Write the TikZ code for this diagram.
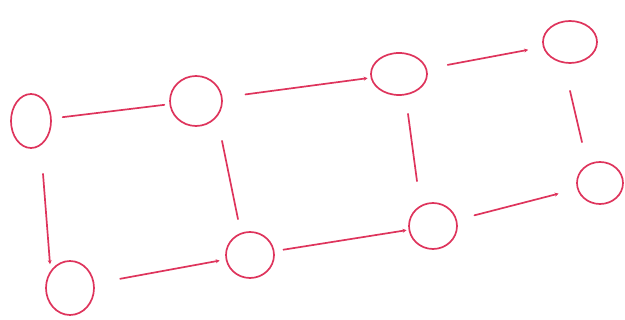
\documentclass[tikz,border=0pt]{standalone}
\usetikzlibrary{shapes.geometric,arrows.meta}
\definecolor{ink}{RGB}{222,52,92}
\tikzset{
  vtx/.style={ellipse,draw=ink,line width=1.7pt,inner sep=0pt},
  edge/.style={draw=ink,line width=1.7pt,line cap=round},
  tip/.style={-{Stealth[length=4pt,width=4pt]}}
}
\begin{document}
\begin{tikzpicture}[x=1pt,y=-1pt]
\useasboundingbox (0,0) rectangle (625,320);
\node[vtx,minimum width=40pt,minimum height=54pt] (A) at (31,121) {};
\node[vtx,minimum width=52pt,minimum height=50pt] (B) at (196,101) {};
\node[vtx,minimum width=56pt,minimum height=42pt] (C) at (399,74) {};
\node[vtx,minimum width=54pt,minimum height=42pt] (D) at (570,42) {};
\node[vtx,minimum width=48pt,minimum height=54pt] (E) at (70,288) {};
\node[vtx,minimum width=48pt,minimum height=46pt] (F) at (250,255) {};
\node[vtx,minimum width=48pt,minimum height=46pt] (G) at (433,226) {};
\node[vtx,minimum width=46pt,minimum height=42pt] (H) at (600,183) {};
% horizontal connectors
\draw[edge,shorten <=11pt,shorten >=5pt] (A) -- (B);
\draw[edge,tip,shorten <=23pt,shorten >=3pt] (B) -- (C);
\draw[edge,tip,shorten <=21pt,shorten >=15pt] (C) -- (D);
\draw[edge,tip,shorten <=26pt,shorten >=6pt] (E) -- (F);
\draw[edge,tip,shorten <=9pt,shorten >=2pt] (F) -- (G);
\draw[edge,tip,shorten <=18pt,shorten >=19pt] (G) -- (H);
% vertical connectors
\draw[edge,tip] ([shift={(12pt,-25pt)}]A.south) -- ([shift={(-20pt,-4pt)}]E.north);
\draw[edge] ([shift={(26pt,-14pt)}]B.south) -- ([shift={(-12pt,12pt)}]F.north);
\draw[edge] ([shift={(9pt,-18pt)}]C.south) -- ([shift={(-16pt,21pt)}]G.north);
\draw[edge] ([shift={(0pt,-27pt)}]D.south) -- ([shift={(-18pt,19pt)}]H.north);
\end{tikzpicture}
\end{document}
